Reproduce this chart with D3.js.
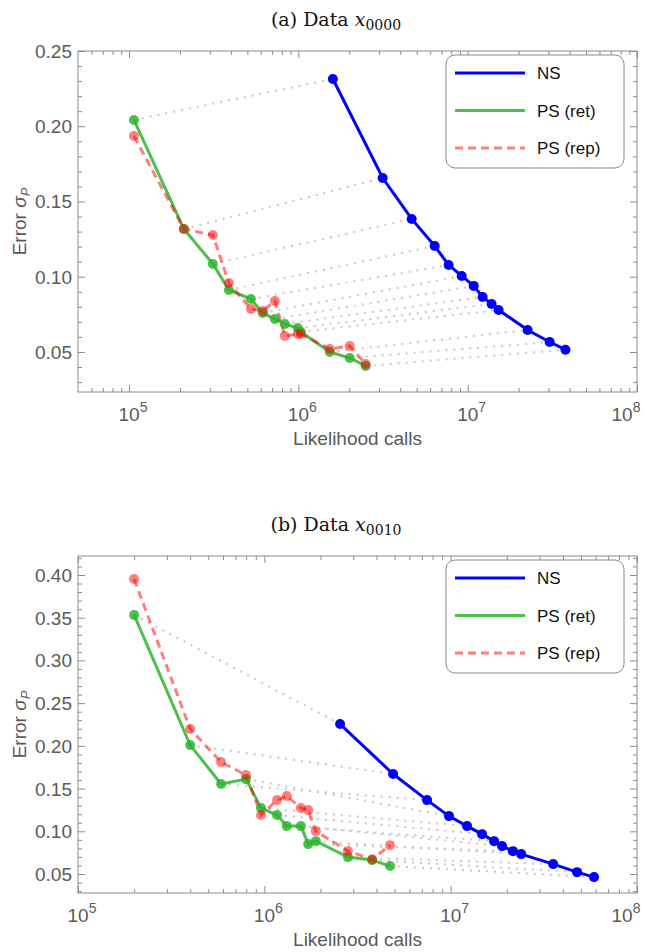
<!DOCTYPE html>
<html lang="en">
<head>
<meta charset="utf-8">
<title>NS vs PS error</title>
<script src="https://d3js.org/d3.v7.min.js"></script>
<style>
  body { margin: 0; background: #ffffff; }
  svg { display: block; }
  .frame { fill: none; stroke: #8c8c8c; stroke-width: 1; }
  .tick line { stroke: #8c8c8c; }
  .domain { display: none; }
  .ticklab { font-family: "Liberation Sans", Arial, sans-serif; font-size: 19px; fill: #5a5a5a; }
  .axlab { font-family: "Liberation Sans", Arial, sans-serif; font-size: 19px; fill: #5a5a5a; }
  .title { font-family: "DejaVu Serif", "Liberation Serif", serif; font-size: 19px; fill: #111; }
  .legtext { font-family: "Liberation Sans", Arial, sans-serif; font-size: 17px; fill: #111; }
</style>
</head>
<body>
<div id="chart"></div>
<script>
// panel (a): Data x0000
var nsCallsA = [1.60e6, 3.15e6, 4.67e6, 6.39e6, 7.72e6, 9.22e6, 1.085e7, 1.226e7, 1.385e7, 1.524e7, 2.26e7, 3.05e7, 3.78e7];
var nsErrA   = [0.2314, 0.1656, 0.1384, 0.1204, 0.1078, 0.1005, 0.0939, 0.0865, 0.0819, 0.0779, 0.0646, 0.0566, 0.0515];
var psCallsA = [1.07e5, 2.11e5, 3.13e5, 3.89e5, 5.25e5, 6.17e5, 7.27e5, 8.32e5, 9.93e5, 1.034e6, 1.534e6, 2.01e6, 2.50e6];
var retErrA  = [0.2042, 0.1317, 0.1085, 0.0912, 0.0852, 0.0759, 0.0719, 0.0686, 0.0659, 0.0633, 0.0500, 0.0460, 0.0407];
var repErrA  = [0.1935, 0.1317, 0.1277, 0.0958, 0.0786, 0.0772, 0.0839, 0.0606, 0.0620, 0.0620, 0.0520, 0.0540, 0.0420];

// panel (b): Data x0010
var nsCallsB = [2.55e6, 4.91e6, 7.47e6, 9.80e6, 1.225e7, 1.474e7, 1.71e7, 1.887e7, 2.16e7, 2.39e7, 3.55e7, 4.77e7, 5.88e7];
var nsErrB   = [0.2255, 0.1670, 0.1365, 0.1178, 0.1061, 0.0967, 0.0885, 0.0827, 0.0768, 0.0733, 0.0616, 0.0522, 0.0464];
var psCallsB = [2.0e5, 4.0e5, 5.86e5, 7.98e5, 9.6e5, 1.17e6, 1.32e6, 1.57e6, 1.72e6, 1.89e6, 2.81e6, 3.79e6, 4.73e6];
var retErrB  = [0.3532, 0.2009, 0.1553, 0.1611, 0.1272, 0.1190, 0.1061, 0.1061, 0.0850, 0.0885, 0.0698, 0.0663, 0.0593];
var repErrB  = [0.3953, 0.2197, 0.1810, 0.1658, 0.1190, 0.1365, 0.1412, 0.1272, 0.1248, 0.1002, 0.0768, 0.0674, 0.0838];

var yTicksA = [0.05, 0.10, 0.15, 0.20, 0.25];
var yTicksB = [0.05, 0.10, 0.15, 0.20, 0.25, 0.30, 0.35, 0.40];
var xDecades = [1e5, 1e6, 1e7, 1e8];
var legendNames = ["NS", "PS (ret)", "PS (rep)"];

var W = 645, H = 952;
var svg = d3.select("#chart").append("svg").attr("width", W).attr("height", H);

var BLUE = "#0000ff", GREEN = "rgb(45,180,45)", RED = "rgb(255,0,0)";

function drawPanel(p) {
  var g = svg.append("g");
  var x = d3.scaleLog().domain(p.xDom).range([p.left, p.right]);
  var y = d3.scaleLinear().domain(p.yDom).range([p.bottom, p.top]);

  // minor / major ticks on all four sides, pointing inward
  var minorX = [];
  for (var d = 1e4; d < 1e8; d *= 10) for (var k = 2; k <= 9; k++) {
    var v = d * k; if (v > p.xDom[0] && v < p.xDom[1]) minorX.push(v);
  }
  var minorY = d3.range(0, 0.45, 0.01).filter(function(v) {
    return v > p.yDom[0] && v < p.yDom[1] && Math.abs(Math.round(v * 20) - v * 20) > 1e-6;
  });
  var majX = xDecades.filter(function(v) { return v >= p.xDom[0] && v <= p.xDom[1]; });

  function ax(axisFn, scale, vals, size, tr) {
    g.append("g").attr("transform", tr)
      .call(axisFn(scale).tickValues(vals).tickSize(size).tickFormat(""));
  }
  ax(d3.axisBottom, x, majX, -7, "translate(0," + p.bottom + ")");
  ax(d3.axisBottom, x, minorX, -4, "translate(0," + p.bottom + ")");
  ax(d3.axisTop, x, majX, -7, "translate(0," + p.top + ")");
  ax(d3.axisTop, x, minorX, -4, "translate(0," + p.top + ")");
  ax(d3.axisLeft, y, p.yTicks, -7, "translate(" + p.left + ",0)");
  ax(d3.axisLeft, y, minorY, -4, "translate(" + p.left + ",0)");
  ax(d3.axisRight, y, p.yTicks, -7, "translate(" + p.right + ",0)");
  ax(d3.axisRight, y, minorY, -4, "translate(" + p.right + ",0)");

  g.append("rect").attr("class", "frame")
    .attr("x", p.left).attr("y", p.top)
    .attr("width", p.right - p.left).attr("height", p.bottom - p.top);

  // tick labels
  g.selectAll(".ylab").data(p.yTicks).enter().append("text")
    .attr("class", "ticklab").attr("text-anchor", "end")
    .attr("x", p.left - 6).attr("y", function(v) { return y(v) + 7; })
    .text(function(v) { return v.toFixed(2); });
  var xl = g.selectAll(".xlab").data(majX).enter().append("text")
    .attr("class", "ticklab").attr("text-anchor", "middle")
    .attr("x", function(v) { return Math.min(x(v) + 4, 626); }).attr("y", p.bottom + 29);
  xl.append("tspan").text("10");
  xl.append("tspan").attr("dy", -9).attr("font-size", 14).text(function(v) { return Math.round(Math.log10(v)); });

  // axis labels
  g.append("text").attr("class", "axlab").attr("text-anchor", "middle")
    .attr("x", (p.left + p.right) / 2).attr("y", p.bottom + 53).text("Likelihood calls");
  var yl = g.append("text").attr("class", "axlab").attr("text-anchor", "middle")
    .attr("transform", "translate(26," + ((p.top + p.bottom) / 2) + ") rotate(-90)");
  yl.append("tspan").text("Error ");
  yl.append("tspan").attr("font-style", "italic").text("σ");
  yl.append("tspan").attr("font-style", "italic").attr("font-size", 13).attr("dy", 4).text("P");

  // title
  var t = g.append("text").attr("class", "title").attr("text-anchor", "middle")
    .attr("x", 336).attr("y", p.top - 25);
  t.append("tspan").text(p.label + " Data ");
  t.append("tspan").attr("font-style", "italic").text("x");
  t.append("tspan").attr("font-size", 14).attr("dy", 4).text(p.sub);

  // dotted connectors ret -> NS
  var pairs = p.psCalls.map(function(c, i) {
    return [[c, p.retErr[i]], [p.nsCalls[i], p.nsErr[i]]];
  });
  g.selectAll(".conn").data(pairs).enter().append("line")
    .attr("x1", function(d) { return x(d[0][0]); }).attr("y1", function(d) { return y(d[0][1]); })
    .attr("x2", function(d) { return x(d[1][0]); }).attr("y2", function(d) { return y(d[1][1]); })
    .attr("stroke", "#c8c8c8").attr("stroke-width", 2).attr("stroke-dasharray", "2,6");

  var line = d3.line().x(function(d) { return x(d[0]); }).y(function(d) { return y(d[1]); });
  var series = [
    { pts: d3.zip(p.nsCalls, p.nsErr), color: BLUE, op: 1, dash: null, w: 3 },
    { pts: d3.zip(p.psCalls, p.retErr), color: GREEN, op: 0.85, dash: null, w: 3 },
    { pts: d3.zip(p.psCalls, p.repErr), color: RED, op: 0.5, dash: "8,5", w: 3 }
  ];
  series.forEach(function(s) {
    var sg = g.append("g").attr("opacity", s.op);
    sg.append("path").datum(s.pts).attr("d", line)
      .attr("fill", "none").attr("stroke", s.color).attr("stroke-width", s.w)
      .attr("stroke-dasharray", s.dash);
  });
  series.forEach(function(s) {
    g.append("g").selectAll("circle").data(s.pts).enter().append("circle")
      .attr("cx", function(d) { return x(d[0]); }).attr("cy", function(d) { return y(d[1]); })
      .attr("r", 5).attr("fill", s.color).attr("fill-opacity", s.op);
  });

  // legend
  var lg = g.append("g").attr("transform", "translate(446," + (p.top + 4) + ")");
  lg.append("rect").attr("width", 178).attr("height", 113).attr("rx", 9)
    .attr("fill", "#fff").attr("stroke", "#8a8a8a").attr("stroke-width", 1);
  legendNames.forEach(function(n, i) {
    var s = series[i], yy = 18 + i * 37.5;
    lg.append("line").attr("x1", 9).attr("x2", 79).attr("y1", yy).attr("y2", yy)
      .attr("stroke", s.color).attr("stroke-opacity", s.op).attr("stroke-width", 3)
      .attr("stroke-dasharray", s.dash);
    lg.append("text").attr("class", "legtext").attr("x", 91).attr("y", yy + 6).text(n);
  });
}

drawPanel({
  label: "(a)", sub: "0000",
  left: 78, right: 637, top: 51, bottom: 392,
  xDom: [5e4, 1e8], yDom: [0.0234, 0.25], yTicks: yTicksA,
  nsCalls: nsCallsA, nsErr: nsErrA, psCalls: psCallsA, retErr: retErrA, repErr: repErrA
});
drawPanel({
  label: "(b)", sub: "0010",
  left: 78, right: 637, top: 556, bottom: 893,
  xDom: [1e5, 1e8], yDom: [0.0278, 0.4222], yTicks: yTicksB,
  nsCalls: nsCallsB, nsErr: nsErrB, psCalls: psCallsB, retErr: retErrB, repErr: repErrB
});
</script>
</body>
</html>
